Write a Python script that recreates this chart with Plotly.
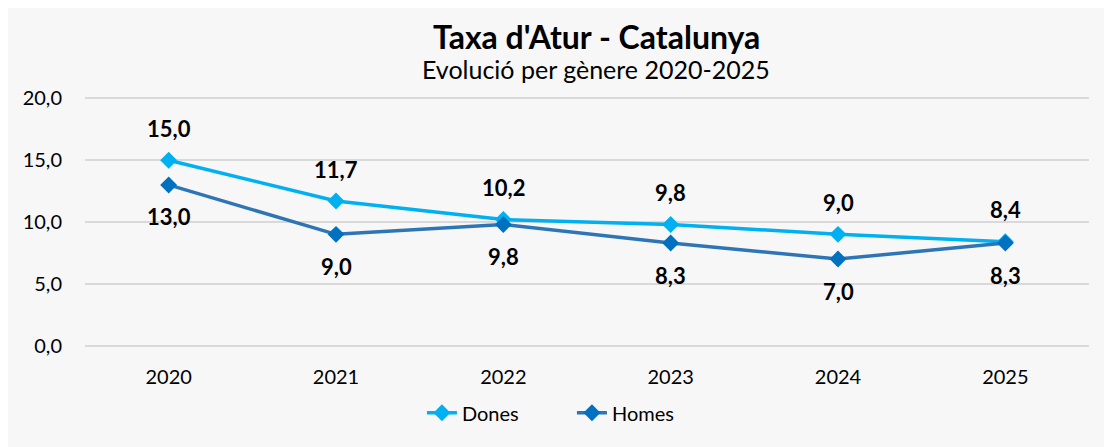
import plotly.graph_objects as go

years = ["2020", "2021", "2022", "2023", "2024", "2025"]
dones = [15.0, 11.7, 10.2, 9.8, 9.0, 8.4]
homes = [13.0, 9.0, 9.8, 8.3, 7.0, 8.3]
y_ticks = [0, 5, 10, 15, 20]

FONT = "Lato"
C_DONES = "#00B0F0"
C_HOMES = "#2E75B6"
C_HOMES_MK = "#0070C0"

fig = go.Figure()
fig.add_trace(go.Scatter(
    x=years, y=dones, name="Dones", mode="lines+markers",
    line=dict(color=C_DONES, width=3.5),
    marker=dict(symbol="diamond", size=13, color=C_DONES),
))
fig.add_trace(go.Scatter(
    x=years, y=homes, name="Homes", mode="lines+markers",
    line=dict(color=C_HOMES, width=3.5),
    marker=dict(symbol="diamond", size=13, color=C_HOMES_MK),
))

def fmt(v):
    return f"{v:.1f}".replace(".", ",")

for i, v in enumerate(dones):
    fig.add_annotation(x=i, y=v, text=f"<b>{fmt(v)}</b>", showarrow=False,
                       yanchor="middle", yshift=32,
                       font=dict(family=FONT, size=22, color="#000000"))
for i, v in enumerate(homes):
    fig.add_annotation(x=i, y=v, text=f"<b>{fmt(v)}</b>", showarrow=False,
                       yanchor="middle", yshift=-32,
                       font=dict(family=FONT, size=22, color="#000000"))

fig.add_annotation(xref="paper", yref="paper", x=0.509, y=1.0, yanchor="middle", yshift=60,
                   text="<b>Taxa d'Atur - Catalunya</b>", showarrow=False,
                   font=dict(family=FONT, size=32, color="#000000"))
fig.add_annotation(xref="paper", yref="paper", x=0.509, y=1.0, yanchor="middle", yshift=27,
                   text="Evolució per gènere 2020-2025", showarrow=False,
                   font=dict(family=FONT, size=25, color="#000000"))

fig.update_layout(
    width=1104, height=439,
    margin=dict(l=77, r=23, t=88, b=99),
    paper_bgcolor="#F7F7F7", plot_bgcolor="rgba(0,0,0,0)",
    separators=",.",
    font=dict(family=FONT, size=20, color="#000000"),
    showlegend=True,
    legend=dict(orientation="h", x=0.485, xanchor="center", y=-0.257, yanchor="middle",
                font=dict(family=FONT, size=20, color="#000000"),
                bgcolor="rgba(0,0,0,0)", entrywidth=105, entrywidthmode="pixels"),
    xaxis=dict(type="category", range=[-0.5, 5.5], showgrid=False, zeroline=False,
               showline=False, ticks="", ticklabelstandoff=15,
               tickfont=dict(family=FONT, size=20, color="#000000")),
    yaxis=dict(range=[-0.2, 20.2], tickvals=y_ticks, tickformat=".1f", showgrid=True,
               gridcolor="#D9D9D9", gridwidth=2, zeroline=False, showline=False,
               ticks="", ticklabelstandoff=22,
               tickfont=dict(family=FONT, size=20, color="#000000")),
)

fig.write_html("out.html")
